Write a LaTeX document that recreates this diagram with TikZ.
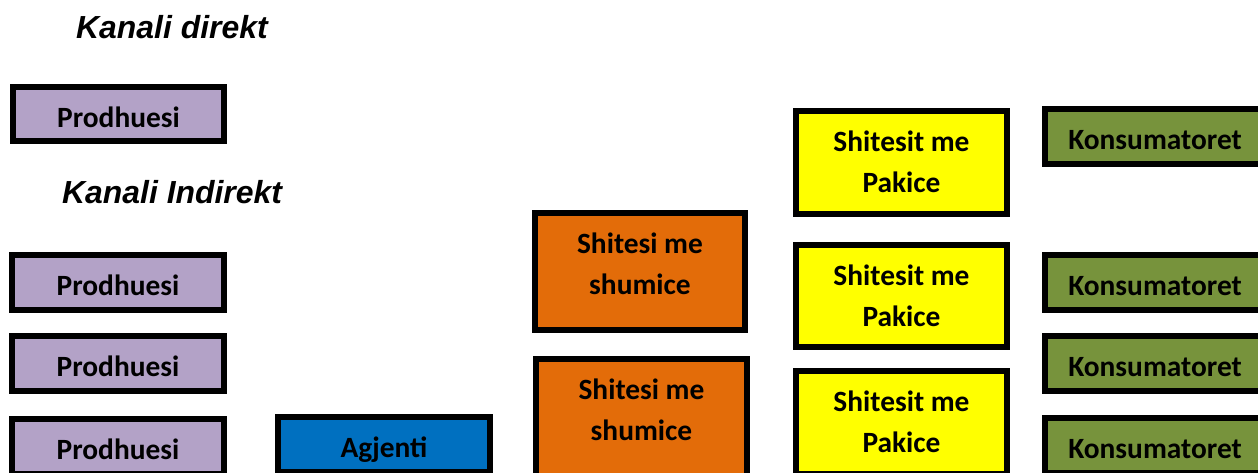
\documentclass[tikz,border=0pt]{standalone}
\usepackage{fontspec}
\newfontfamily\boxfont{Carlito}
\newfontfamily\headfont{Liberation Sans}
\definecolor{lavender}{HTML}{B3A2C7}
\definecolor{agentblue}{HTML}{0070C0}
\definecolor{wholesale}{HTML}{E36C09}
\definecolor{retail}{HTML}{FFFF00}
\definecolor{consumer}{HTML}{77933C}
\tikzset{
  stage/.style={draw=black, line width=6pt, fill=#1, inner sep=0pt, outer sep=0pt},
  stagetext/.style={anchor=north, align=center, inner sep=0pt,
    font=\boxfont\bfseries\fontsize{29.4}{41}\selectfont},
  heading/.style={anchor=base west, inner sep=0pt,
    font=\headfont\bfseries\itshape\fontsize{31.9}{36}\selectfont}
}
% \stagebox{name}{fill}{left}{top}{right}{bottom}{text}  (outer edges, pixels)
\newcommand{\stagebox}[7]{%
  \node[stage=#2, minimum width={#5-#3-6}, minimum height={#6-#4-6}]
    (#1) at ({(#3+#5)/2},{(#4+#6)/2}) {};
  \node[stagetext] (#1-t) at ([yshift=-11.3pt]#1.north) {\strut #7};
}
\begin{document}
\begin{tikzpicture}[x=1pt, y=-1pt]
  \useasboundingbox (0,0) rectangle (1258,472);
  \clip (0,0) rectangle (1258,472);

  \node[heading] (direct) at (76,38.3) {Kanali direkt};
  \node[heading] (indirect) at (62,203) {Kanali Indirekt};

  % direct channel
  \stagebox{p0}{lavender}{10}{84}{227}{144}{Prodhuesi}

  % indirect channels
  \stagebox{p1}{lavender}{9}{252}{227}{313}{Prodhuesi}
  \stagebox{p2}{lavender}{9}{333}{227}{394}{Prodhuesi}
  \stagebox{p3}{lavender}{9}{416}{227}{477}{Prodhuesi}
  \stagebox{ag}{agentblue}{275}{414}{493}{475}{Agjenti}

  \stagebox{w1}{wholesale}{532}{210}{748}{333}{Shitesi me\\shumice}
  \stagebox{w2}{wholesale}{533}{356}{750}{480}{Shitesi me\\shumice}

  \stagebox{r1}{retail}{793}{108}{1010}{217}{Shitesit me\\Pakice}
  \stagebox{r2}{retail}{793}{242}{1010}{350}{Shitesit me\\Pakice}
  \stagebox{r3}{retail}{793}{368}{1010}{477}{Shitesit me\\Pakice}

  \stagebox{c1}{consumer}{1042}{106}{1268}{167}{Konsumatoret}
  \stagebox{c2}{consumer}{1042}{252}{1268}{313}{Konsumatoret}
  \stagebox{c3}{consumer}{1042}{333}{1268}{394}{Konsumatoret}
  \stagebox{c4}{consumer}{1042}{415}{1268}{476}{Konsumatoret}
\end{tikzpicture}
\end{document}
